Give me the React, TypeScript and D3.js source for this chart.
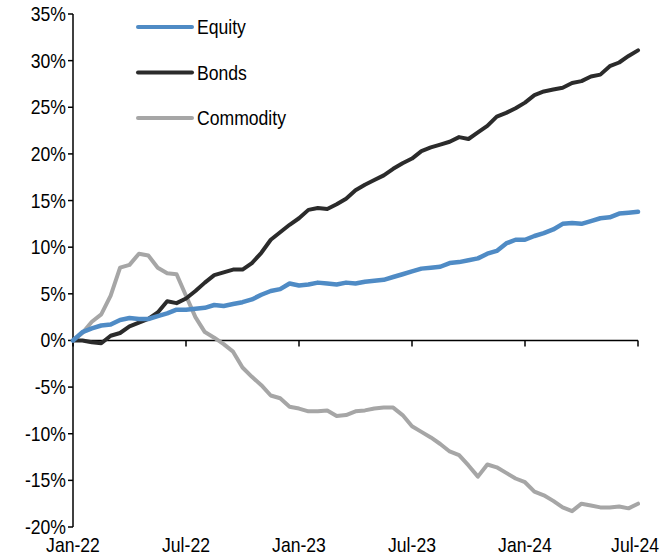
import React, { useRef, useEffect } from 'react';
import * as d3 from 'd3';

// semi-monthly observations, Jan-22 .. Jul-24 (cumulative return, %)
const equity = [
  0, 0.9, 1.3, 1.6, 1.7, 2.2, 2.4, 2.3, 2.3, 2.6, 2.9, 3.3, 3.3, 3.4, 3.5, 3.8,
  3.7, 3.9, 4.1, 4.4, 4.9, 5.3, 5.5, 6.1, 5.9, 6.0, 6.2, 6.1, 6.0, 6.2, 6.1, 6.3,
  6.4, 6.5, 6.8, 7.1, 7.4, 7.7, 7.8, 7.9, 8.3, 8.4, 8.6, 8.8, 9.3, 9.6, 10.4, 10.8,
  10.8, 11.2, 11.5, 11.9, 12.5, 12.6, 12.5, 12.8, 13.1, 13.2, 13.6, 13.7, 13.8,
];
const bonds = [
  0, 0.0, -0.2, -0.3, 0.5, 0.8, 1.5, 1.9, 2.3, 3.0, 4.2, 4.0, 4.5, 5.3, 6.2, 7.0,
  7.3, 7.6, 7.6, 8.3, 9.4, 10.8, 11.6, 12.4, 13.1, 14.0, 14.2, 14.1, 14.6, 15.2, 16.1, 16.7,
  17.2, 17.7, 18.4, 19.0, 19.5, 20.3, 20.7, 21.0, 21.3, 21.8, 21.6, 22.3, 23.0, 24.0, 24.4, 24.9,
  25.5, 26.3, 26.7, 26.9, 27.1, 27.6, 27.8, 28.3, 28.5, 29.4, 29.8, 30.5, 31.1,
];
const commodity = [
  0, 0.8, 2.0, 2.8, 4.8, 7.8, 8.1, 9.3, 9.1, 7.8, 7.2, 7.1, 4.8, 2.5, 0.9, 0.3,
  -0.4, -1.2, -2.9, -3.9, -4.8, -5.9, -6.2, -7.1, -7.3, -7.6, -7.6, -7.5, -8.1, -8.0, -7.6, -7.5,
  -7.3, -7.2, -7.2, -8.0, -9.2, -9.8, -10.4, -11.1, -11.9, -12.3, -13.4, -14.6, -13.3, -13.6, -14.2, -14.8,
  -15.2, -16.2, -16.6, -17.2, -17.9, -18.3, -17.5, -17.7, -17.9, -17.9, -17.8, -18.0, -17.5,
];
const seriesNames = ['Equity', 'Bonds', 'Commodity'];
const seriesColors = ['#4f8bc5', '#2b2b2b', '#a6a6a6'];
const yTicks = [35, 30, 25, 20, 15, 10, 5, 0, -5, -10, -15, -20];
const xTickLabels = ['Jan-22', 'Jul-22', 'Jan-23', 'Jul-23', 'Jan-24', 'Jul-24'];

const FONT = '"Liberation Sans", Arial, sans-serif';
const NARROW = 0.88; // the original uses a condensed face

export default function App() {
  const svgRef = useRef<SVGSVGElement>(null);

  useEffect(() => {
    const svg = d3.select(svgRef.current as SVGSVGElement);
    svg.selectAll('*').remove();

    const x = d3.scaleLinear().domain([0, 30]).range([73, 638]);
    const y = d3.scaleLinear().domain([-20, 35]).range([527, 14]);

    const label = (tx: number, ty: number, s: string, anchor: string) =>
      svg.append('text')
        .attr('transform', `translate(${tx},${ty}) scale(${NARROW},1)`)
        .attr('text-anchor', anchor)
        .attr('font-family', FONT).attr('font-size', 20)
        .attr('fill', '#000')
        .text(s);

    // y axis
    svg.append('line')
      .attr('x1', x(0)).attr('x2', x(0))
      .attr('y1', y(35)).attr('y2', y(-20))
      .attr('stroke', '#000').attr('stroke-width', 1.5);
    yTicks.forEach(t => {
      svg.append('line')
        .attr('x1', x(0) - 5).attr('x2', x(0))
        .attr('y1', y(t)).attr('y2', y(t))
        .attr('stroke', '#000').attr('stroke-width', 1.5);
      label(x(0) - 7, y(t) + 7, `${t}%`, 'end');
    });

    // x axis at zero
    svg.append('line')
      .attr('x1', x(0)).attr('x2', x(30))
      .attr('y1', y(0)).attr('y2', y(0))
      .attr('stroke', '#000').attr('stroke-width', 1.5);
    xTickLabels.forEach((lab, i) => {
      const m = i * 6;
      svg.append('line')
        .attr('x1', x(m)).attr('x2', x(m))
        .attr('y1', y(0)).attr('y2', y(0) + 6)
        .attr('stroke', '#000').attr('stroke-width', 1.5);
      const last = i === xTickLabels.length - 1;
      label(last ? 659 : x(m), 552, lab, last ? 'end' : 'middle');
    });

    // lines
    const line = d3.line<number>()
      .x((_, i) => x(i * 0.5))
      .y(d => y(d));
    const data = [equity, bonds, commodity];
    [2, 1, 0].forEach(k => {
      svg.append('path')
        .datum(data[k])
        .attr('fill', 'none')
        .attr('stroke', seriesColors[k])
        .attr('stroke-width', k === 0 ? 4.5 : 4)
        .attr('stroke-linejoin', 'round')
        .attr('stroke-linecap', 'round')
        .attr('d', line as any);
    });

    // legend
    seriesNames.forEach((name, i) => {
      const ly = 27 + i * 45.5;
      svg.append('line')
        .attr('x1', 138).attr('x2', 192)
        .attr('y1', ly).attr('y2', ly)
        .attr('stroke', seriesColors[i])
        .attr('stroke-width', 4)
        .attr('stroke-linecap', 'round');
      label(197, ly + 7, name, 'start');
    });
  }, []);

  return (
    <svg
      ref={svgRef}
      width={661}
      height={559}
      style={{ position: 'absolute', left: 0, top: 0, background: '#fff' }}
    />
  );
}
